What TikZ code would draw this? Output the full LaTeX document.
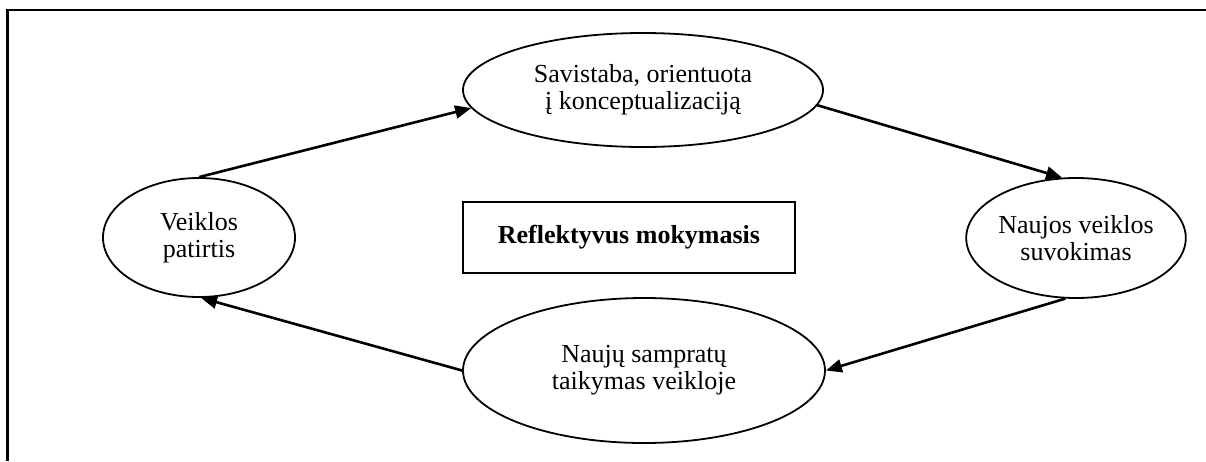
\documentclass[tikz,border=0pt]{standalone}
\usepackage{fontspec}
\setmainfont{Liberation Serif}
\usetikzlibrary{shapes.geometric,arrows.meta}
\begin{document}
\begin{tikzpicture}[x=1pt,y=-1pt,
  phase/.style={draw, line width=1.8pt, ellipse, inner sep=0pt, align=center,
    font=\fontsize{26}{27}\selectfont},
  titlebox/.style={draw, line width=1.8pt, rectangle, inner sep=0pt, align=center,
    minimum width=332pt, minimum height=71pt, font=\fontsize{26}{27}\selectfont\bfseries},
  flow/.style={line width=2.6pt, -{Triangle[length=16pt,width=13pt]}}]
  \useasboundingbox (0,0) rectangle (1206,461);
  % open frame: top and left edges
  \draw[line width=2.4pt] (7.5,461) -- (7.5,10) -- (1206,10);

  \node[phase, minimum width=192pt, minimum height=119pt] (exp) at (199,237.5) {Veiklos\\patirtis};
  \node[phase, minimum width=360pt, minimum height=114pt] (refl) at (643,90) {Savistaba, orientuota\\į konceptualizaciją};
  \node[phase, minimum width=218pt, minimum height=120pt] (new) at (1076,238) {Naujos veiklos\\suvokimas};
  \node[phase, minimum width=362pt, minimum height=145pt] (apply) at (644,370.5) {Naujų sampratų\\taikymas veikloje};
  \node[titlebox] (title) at (629,237.5) {Reflektyvus mokymasis};

  \draw[flow] (exp.north) -- (refl.186);
  \draw[flow] (refl.355) -- (new.103);
  \draw[flow] (new.260) -- (apply.east);
  \draw[flow] (apply.west) -- (exp.272);
\end{tikzpicture}
\end{document}
